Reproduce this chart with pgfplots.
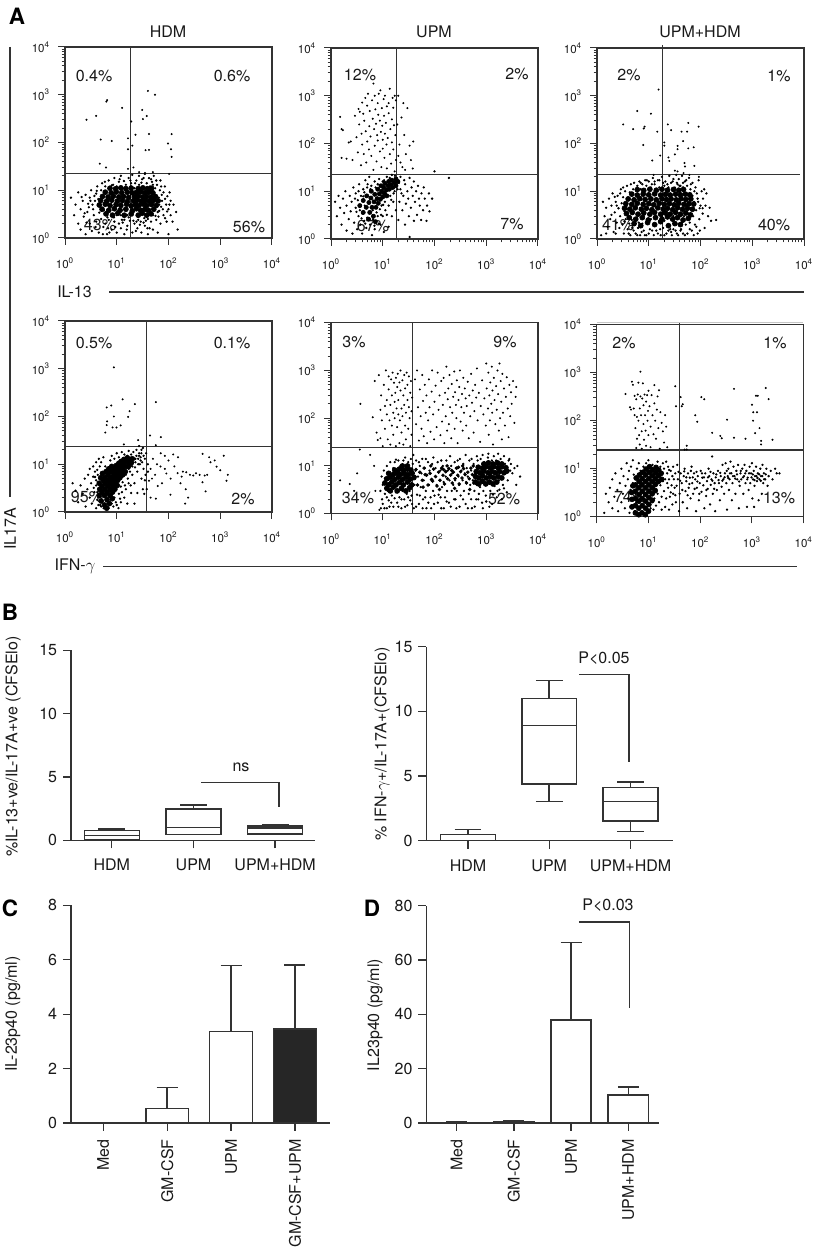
\documentclass[border=0pt]{standalone}
\usepackage{fontspec}
\setmainfont{TeX Gyre Heros}
\usepackage{pgfplots}
\usepgfplotslibrary{statistics}
\pgfplotsset{compat=1.18}
\definecolor{dk}{HTML}{333333}
\newcommand\Tk[1]{10\textsuperscript{#1}}
\newcommand\lab[3]{\node[font=\fontsize{9.6}{11}\selectfont,text=black!90,inner sep=0pt] at ({#1*0.6pt},{(1250-#2)*0.6pt}) {#3};}
\newcommand\rlab[3]{\node[font=\fontsize{9.6}{11}\selectfont,text=black!90,inner sep=0pt,rotate=90] at ({#1*0.6pt},{(1250-#2)*0.6pt}) {#3};}
\newcommand\letter[3]{\node[font=\fontsize{13.5}{15}\selectfont\bfseries,inner sep=0pt] at ({#1*0.6pt},{(1250-#2)*0.6pt}) {#3};}
\pgfplotsset{
  axpos/.style 2 args={at={({#1*0.6pt},{(1250-#2)*0.6pt})},anchor=south west},
  dotbig/.style={only marks,mark=*,mark size=1.5pt,black,mark options={draw=none,fill=black}},
  dotmid/.style={only marks,mark=*,mark size=0.48pt,black,mark options={draw=none,fill=black}},
  dotsmall/.style={only marks,mark=*,mark size=0.38pt,black,mark options={draw=none,fill=black}},
  gateline/.style={dk,line width=0.8pt,no marks},
  flowpanel/.style={scale only axis,width=124.2pt,height=114.6pt,xmin=1,xmax=10000,ymin=1,ymax=10000,clip=false,
    xtickten={0,1,2,3,4},ytickten={0,1,2,3,4},
    xticklabel={\Tk{\pgfmathparse{int(round(\tick/2.302585))}\pgfmathresult}},
    yticklabel={\Tk{\pgfmathparse{int(round(\tick/2.302585))}\pgfmathresult}},
    tick align=outside,tick pos=left,axis line style={dk,line width=0.8pt},
    major tick length=4pt,minor tick length=2pt,tick style={dk,line width=0.6pt},
    tick label style={font=\fontsize{6.9}{8}\selectfont,text=black!90},
    xticklabel style={yshift=-4.5pt},yticklabel style={xshift=-1.5pt}},
  statax/.style={scale only axis,axis lines=left,axis line style={-,dk,line width=0.9pt},
    tick align=outside,tick style={dk,line width=0.8pt},major tick length=4.8pt,
    ymin=0,clip=false,
    tick label style={font=\fontsize{9.6}{11}\selectfont,text=black!90},
    /pgf/number format/assume math mode=true,ytick style={dk},xtick style={dk}},
}
\begin{document}
\begin{tikzpicture}
\useasboundingbox (0,0) rectangle (489pt,750pt);
% panel letters
\letter{17}{16}{A}\letter{10}{612}{B}\letter{10}{908}{C}\letter{372}{908}{D}
% titles
\lab{168}{32}{HDM}\lab{434}{32}{UPM}\lab{700}{32}{UPM+HDM}
% percents
\lab{94}{76}{0.4\%}\lab{232}{76}{0.6\%}\lab{249}{227}{56\%}\lab{100}{225}{43\%}
\lab{360}{75}{12\%}\lab{517}{74}{2\%}\lab{512}{224}{7\%}\lab{373}{226}{67\%}
\lab{629}{75}{2\%}\lab{779}{76}{1\%}\lab{774}{225}{40\%}\lab{618}{225}{41\%}
\lab{94}{343}{0.5\%}\lab{232}{343}{0.1\%}\lab{243}{499}{2\%}\lab{87}{497}{95\%}
\lab{354}{342}{3\%}\lab{505}{342}{9\%}\lab{358}{498}{34\%}\lab{504}{499}{52\%}
\lab{624}{343}{2\%}\lab{775}{343}{1\%}\lab{779}{498}{13\%}\lab{630}{497}{74\%}
% side lines and labels
\lab{74.5}{292}{IL-13}\draw[dk,line width=0.8pt] ({109*0.6pt},{(1250-292)*0.6pt}) -- ({804*0.6pt},{(1250-292)*0.6pt});
\lab{75}{566}{IFN-$\gamma$}\draw[dk,line width=0.8pt] ({103*0.6pt},{(1250-566.7)*0.6pt}) -- ({797*0.6pt},{(1250-566.7)*0.6pt});
\draw[dk,line width=0.9pt] ({10*0.6pt},{(1250-47)*0.6pt}) -- ({10*0.6pt},{(1250-497)*0.6pt});
\rlab{10}{529}{IL17A}

% A1
\begin{loglogaxis}[flowpanel,axpos={65}{238},xminorticks=false]
\addplot[dotbig] table[row sep=\\,header=false] {6.2 3.2\\8.3 3\\10.5 3.3\\14 3\\19 3.2\\26 3\\31 3.3\\38 3\\46 3.2\\5.2 4\\7 3.8\\9 4.1\\11.6 3.8\\15 4\\20 3.7\\24 4.1\\29 3.8\\35 4\\41 3.8\\52 4\\4.6 4.9\\6 5.1\\7.4 4.8\\9.7 5\\12 4.8\\15.5 5.1\\19 4.7\\23 5\\27 4.8\\33 5.1\\38 4.8\\47 5\\58 4.8\\4.9 6.1\\6.4 5.9\\8 6.2\\10.3 5.9\\12.8 6.1\\16 5.8\\21 6\\25 6.2\\30 5.9\\36 6.1\\43 5.9\\52 6.2\\63 6\\5.3 7.4\\6.8 7.2\\8.6 7.5\\11 7.2\\13.5 7.4\\17 7.1\\22 7.3\\26 7.5\\32 7.2\\38 7.4\\46 7.1\\56 7.4\\6 9.1\\7.8 8.8\\9.8 9.2\\12.5 8.9\\16 9.1\\20 8.8\\24 9\\29 9.2\\35 8.9\\42 9.1\\50 8.8\\7.4 11\\9.5 10.7\\12 11.2\\15 10.8\\19 11.1\\26 10.8\\32 11.2\\39 10.8\\47 11\\};
\addplot[dotmid] table[row sep=\\,header=false] {1.3 7\\1.5 3\\1.6 5\\1.8 2\\1.8 9\\2 1.5\\2 4\\2.2 6\\2.3 2.8\\2.5 1.2\\2.5 8\\2.7 3.5\\2.8 5.2\\3 2\\3 7\\3.2 10\\3.3 1.4\\3.5 4\\3.6 3\\3.8 6\\4 2.2\\4 8.5\\4.2 12\\4.5 1.3\\4.6 3.4\\4.8 5\\5 2.5\\5 10\\5.2 14\\5.5 1.7\\5.6 3.8\\6 2\\6 12\\6.5 3\\6.5 1.2\\7 16\\7 2.4\\7.5 11\\8 1.5\\8 3.2\\8.5 13\\9 2.2\\9 18\\10 1.3\\10 3\\10 12\\11 15\\11 2\\12 1.6\\12 3\\12 20\\13 11\\14 2.4\\14 1.2\\15 13\\16 3\\16 1.8\\17 18\\18 2.3\\19 14\\20 1.3\\20 3\\20 21\\22 11\\22 2\\24 16\\25 1.6\\25 3\\27 13\\27 20\\29 2.2\\30 1.3\\31 17\\32 11\\34 2.6\\35 1.8\\35 22\\38 14\\40 1.2\\40 2.5\\42 18\\44 12\\46 2.2\\48 15\\50 1.5\\50 3\\52 20\\55 11\\58 2.4\\58 5\\60 13\\62 1.3\\62 3.5\\65 7\\68 10\\70 2\\70 16\\72 4.5\\75 6\\80 3\\80 9\\85 12\\90 5\\92 2.2\\95 7.5\\100 1.2\\100 4\\105 9\\110 3\\110 6\\120 2.2\\125 5\\140 3.5\\150 1.5\\2.6 2.1\\3.4 5\\4.4 6.5\\3.9 1.7\\2.9 4.4\\5.4 1.2\\6.8 1.6\\8.8 2.7\\11 3.6\\13 2.1\\17 2.7\\21 2.3\\24 2.2\\28 1.9\\33 2.1\\37 2.9\\43 1.6\\47 3.2\\54 4.2\\56 2.9\\66 3.7\\74 8\\3.1 6\\2.4 3.3\\4.1 9.7\\3.7 7.6\\2.1 7.2\\5.9 15\\6.6 2.7\\8 12.6\\7.2 1.3\\9.4 1.7\\12.6 2.4\\11.4 17\\15.6 1.5\\13.8 15.6\\18.4 16\\22.6 14\\23.4 1.4\\26 2.4\\30 14.4\\33 18\\36.6 2.3\\39 1.6\\46 17\\50 13\\58 16\\64 2.8\\66 5\\72 12\\78 4\\86 6.6\\86 2.6\\94 3.6\\104 5\\};
\addplot[dotsmall] table[row sep=\\,header=false] {40 1200\\55 1000\\6.5 770\\6.3 720\\12.7 530\\31 480\\4 360\\2.6 300\\38 360\\32 310\\19 275\\23 145\\42 150\\115 150\\4.9 115\\8 107\\16.5 122\\20 86\\98 95\\16.5 72\\36 69\\42 70\\112 72\\115 50\\4.7 36\\6.2 30\\16.5 28\\21 30\\27 24\\35 23\\50 24\\103 22\\};
\addplot[gateline] coordinates {(18.4,1)(18.4,10000)};
\addplot[gateline] coordinates {(1,22.5)(10000,22.5)};
\end{loglogaxis}

% A2
\begin{loglogaxis}[flowpanel,axpos={331}{239}]
\addplot[dotbig,mark size=1.25pt] table[row sep=\\,header=false] {3.6 5\\4.2 3.6\\4.2 6.4\\4.8 4.6\\4.9 8\\5.3 2.6\\5.4 5.8\\5.6 3.6\\5.9 7.2\\6 10\\6.2 4.6\\6.6 3\\6.8 6\\7 8.6\\7.2 2.3\\7.4 4.6\\7.8 7\\8 11\\8.2 5.6\\8.6 8.8\\9 6.8\\9.2 13\\9.6 10\\10 7.6\\10.4 12\\10.8 9\\11 14.6\\11.8 10.6\\12 8\\12.6 13\\13 16\\13.4 11\\14.4 13.6\\15 17\\15.6 12\\16.6 15\\18 13\\18 18\\19.6 16\\};
\addplot[dotmid] table[row sep=\\,header=false] {1.2 6\\1.3 3\\1.4 8\\1.5 4.5\\1.6 2\\1.7 7\\1.8 3.5\\1.9 10\\2 1.5\\2 5\\2.2 2.6\\2.3 8\\2.4 3.8\\2.5 6\\2.6 1.3\\2.7 12\\2.8 2.2\\3 4.5\\3 9\\3.2 1.6\\3.3 6.5\\3.4 3\\3.5 14\\3.7 2\\3.8 8\\4 1.3\\4 3.4\\4.2 11\\4.4 2.4\\4.5 5\\4.6 17\\4.8 1.7\\5 2.8\\5 12\\5.4 6\\5.5 20\\5.7 2\\6 13\\6.2 1.2\\6.5 2.6\\7 16\\7 1.6\\7.5 2.4\\8 3\\8 14\\8.5 18\\9 2\\9.5 5\\10 3\\10 16\\10.5 1.4\\11 6\\12 3.2\\12 20\\13 5\\13 1.8\\14 8\\15 3\\15 22\\16 6\\17 10\\18 4\\18 18\\20 2.5\\21 6\\22 11\\22 20\\24 4\\25 8\\27 2\\27 14\\28 5.5\\30 10\\31 7\\32 3\\33 19\\35 4.5\\36 12\\38 8\\40 2.4\\40 16\\42 6\\44 10\\46 3.2\\48 13\\50 7\\52 5\\55 2.5\\56 9\\60 4\\62 12\\65 7\\70 2.4\\72 5\\78 9\\80 3.8\\90 7\\100 26\\190 19\\33 1.1\\3.1 3.7\\2.9 7\\3.6 4\\3.9 2.7\\3.4 10\\4.2 7.8\\4.6 2.1\\4.4 9.5\\5.1 14\\5.8 11\\6.4 4\\6.9 1.9\\7.6 3.6\\8.4 2.1\\8.8 4.2\\9.3 3.2\\7.3 12\\10.2 5.2\\11.2 4\\10.6 17\\13.6 19\\14.6 6.6\\16.2 9\\17.2 21\\19.4 11\\20.6 15\\23 9\\26 17\\};
\addplot[dotsmall] table[row sep=\\,header=false] {1.5 360\\1.6 200\\1.7 190\\1.6 50\\2 48\\2.2 105\\2.4 110\\2.6 45\\2.9 380\\3.1 135\\3.3 65\\3.4 530\\3.5 250\\3.6 460\\3.8 35\\3.9 160\\4 720\\4 95\\4.2 420\\4.3 60\\4.4 300\\4.6 900\\4.7 180\\4.8 40\\5 620\\5 110\\5.2 1100\\5.4 75\\5.5 230\\5.6 480\\5.8 140\\6 55\\6.2 800\\6.4 330\\6.6 1800\\6.6 28\\6.8 200\\7 90\\7 1000\\7.2 520\\7.4 260\\7.6 42\\7.8 150\\8 700\\8 115\\8.2 400\\8.4 1100\\8.8 68\\8.8 300\\9 1300\\9.2 175\\9.4 32\\9.6 550\\9.8 235\\10 120\\10 78\\10.4 850\\10.6 380\\10.8 50\\11 1000\\11 160\\11.5 270\\11.8 95\\12 600\\12 30\\12.5 130\\13 700\\13 430\\13.7 60\\13.7 1400\\14 200\\14.5 38\\15 320\\15 105\\15.5 900\\16 75\\16 560\\16.5 240\\17 26\\17 1000\\17.5 150\\18 45\\18 800\\19 250\\20 55\\20 1000\\21 95\\22 40\\23 350\\24 32\\25 700\\26 150\\27 28\\28 60\\30 550\\33 90\\35 45\\38 30\\39 110\\};
\addplot[gateline] coordinates {(18.4,1)(18.4,10000)};
\addplot[gateline] coordinates {(1,22.6)(10000,22.6)};
\end{loglogaxis}

% A3
\begin{loglogaxis}[flowpanel,axpos={597}{239}]
\addplot[dotbig] table[row sep=\\,header=false] {5.2 2.1\\7 1.9\\9.5 2.2\\13 2\\17 2.3\\24 1.9\\32 2.1\\41 2\\4.2 2.8\\5.6 2.6\\7.5 2.8\\9.8 2.5\\13.5 2.8\\18 2.6\\23 2.9\\29 2.6\\36 2.8\\46 2.5\\58 2.7\\3.7 3.4\\4.8 3.6\\6.2 3.3\\8 3.5\\10.5 3.3\\13 3.6\\17 3.3\\21 3.5\\26 3.3\\33 3.6\\41 3.3\\52 3.5\\64 3.2\\3.4 4.4\\4.3 4.2\\5.5 4.5\\7.2 4.2\\9 4.4\\11.5 4.1\\15 4.5\\19 4.2\\23 4.4\\29 4.1\\36 4.5\\45 4.2\\56 4.4\\70 4.2\\3.6 5.5\\4.7 5.3\\6 5.6\\7.8 5.3\\10 5.5\\12.5 5.2\\16 5.6\\20 5.3\\25 5.5\\31 5.2\\38 5.6\\48 5.3\\60 5.5\\74 5.4\\4 6.9\\5.2 6.6\\6.7 7\\8.5 6.7\\11 6.9\\14 6.6\\18 7\\22 6.7\\27 6.9\\34 6.6\\42 7\\52 6.7\\65 6.9\\4.7 8.7\\6 8.3\\7.8 8.7\\10 8.4\\13 8.8\\17 8.3\\21 8.6\\26 8.3\\33 8.7\\41 8.4\\51 8.7\\62 8.4\\6 10.8\\8 10.4\\10.5 11\\14 10.5\\18 11\\23 10.5\\30 10.9\\38 10.5\\47 10.9\\};
\addplot[dotmid] table[row sep=\\,header=false] {1.2 1.2\\1.3 6\\1.4 3\\1.5 4.5\\1.6 1.8\\1.7 7\\1.8 2.6\\1.9 5\\2 9\\2.1 1.4\\2.2 3.6\\2.3 6\\2.4 2.2\\2.5 8\\2.6 4.4\\2.7 1.7\\2.8 3\\2.9 11\\3 5.6\\3.1 2\\3.2 7.5\\3.3 1.3\\3.4 3.8\\3.5 10\\3.6 2.6\\3.7 4.8\\3.8 13\\3.9 1.6\\4 3\\4.1 7\\4.2 2.1\\4.3 9.5\\4.4 1.2\\4.5 14\\4.6 4.2\\4.7 2.5\\4.8 1.7\\5 11\\5.2 15\\5.4 2\\5.6 1.3\\5.8 2.8\\6 13\\6.2 1.7\\6.4 2.2\\6.6 16\\6.8 1.2\\7 11\\7.5 2.1\\7.5 14\\8 1.5\\8 3\\8.5 17\\9 1.2\\9 13\\9.5 2.2\\10 16\\10.5 1.6\\11 2.6\\11 12\\12 19\\12.5 1.2\\13 2\\13 14\\14 2.8\\14 1.5\\15 17\\16 2.4\\16 12\\17 1.2\\18 3\\18 20\\19 1.7\\20 2.4\\20 13\\21 16\\22 1.3\\22 3\\23 4.5\\24 2\\24 12\\25 21\\26 1.6\\27 2.6\\27 15\\28 1.2\\30 3\\30 18\\31 2\\32 12\\33 1.5\\34 22\\35 2.6\\36 14\\37 1.2\\38 2\\38 18\\40 3\\41 13\\42 1.6\\44 2.2\\44 21\\46 1.3\\46 12\\48 3\\50 16\\52 2\\52 9\\54 5\\55 13\\56 1.3\\58 3.4\\60 7\\60 19\\62 2.2\\64 11\\66 4.5\\68 1.5\\70 8\\70 15\\72 3\\75 6\\78 2\\80 12\\82 4\\85 9\\88 1.3\\90 6\\92 17\\95 2.6\\100 5\\105 10\\110 3.4\\112 7\\120 1.7\\125 5\\130 9\\140 3\\150 4.5\\160 2.4\\200 2.5\\1.5 1.3\\2.3 1.3\\1.9 3.2\\2.4 5\\2.2 7.6\\2.8 9\\3.2 12\\3.4 2.3\\4.1 1.3\\5.1 1.5\\6 1.2\\7.3 1.4\\8.4 1.2\\10 1.3\\11.6 1.5\\15 1.3\\16.6 1.6\\20 1.2\\24 1.5\\27 1.4\\30 1.6\\35 1.3\\41 1.5\\50 1.2\\62 1.6\\74 1.2\\83 1.8\\97 1.5\\7 15\\9.2 17\\11.5 14\\13 16\\16 17\\19 15\\23 14\\29 16\\35 15\\39 13\\46 15\\53 17\\65 14\\76 10\\88 7\\96 4.4\\110 4.4\\118 11\\};
\addplot[dotsmall] table[row sep=\\,header=false] {15.5 1350\\6 480\\11 420\\3.2 250\\5 200\\8.3 225\\8 205\\14.6 177\\23.4 250\\27 190\\43 177\\55 177\\58 270\\92 225\\7.8 93\\20 105\\20 90\\46 112\\36 89\\58 79\\74 83\\36 76\\32 59\\16.6 56\\11.7 44\\24 51\\25 43\\49 39\\50 33\\76 34\\36 26\\32 27\\47 24\\12.4 22\\61 22\\93 20\\};
\addplot[gateline] coordinates {(18.6,1)(18.6,11800)};
\addplot[gateline] coordinates {(1,22.6)(8500,22.6)};
\end{loglogaxis}

% A4
\begin{loglogaxis}[flowpanel,axpos={65}{512},xminorticks=false]
\addplot[dotbig] table[row sep=\\,header=false] {4.6 2.2\\4.7 3\\4.6 4\\4.9 5.2\\5 1.7\\5.2 2.6\\5.2 3.5\\5.3 6.4\\5.5 4.6\\5.8 1.4\\5.8 2.2\\5.9 3\\6 4\\6 5.3\\6.2 7\\6.4 1.2\\6.5 1.8\\6.6 2.6\\6.7 3.5\\6.8 4.6\\6.8 6\\7 8\\7.2 1.5\\7.4 2.2\\7.5 3\\7.5 4\\7.7 5.2\\7.8 7\\8 9\\8.2 1.9\\8.3 2.6\\8.4 3.5\\8.6 4.6\\8.7 6\\8.8 8\\9.2 3\\9.3 4\\9.5 5.2\\9.6 7\\9.8 9.4\\10.2 3.6\\10.4 4.6\\10.6 6\\10.8 8\\11 10.5\\11.5 5.2\\11.8 7\\12 9\\12.2 11.5\\13 6\\13 8\\13.4 10\\13.8 12.6\\14.6 7\\15 9\\15.2 11.5\\16 13.6\\16.8 9\\17 11\\18 12.6\\19 10.6\\20 13\\};
\addplot[dotmid] table[row sep=\\,header=false] {1.4 4\\1.6 2.8\\1.8 1.6\\2 3.6\\2.2 2.4\\2.4 5\\2.5 1.3\\2.7 3\\2.8 6\\3 2\\3 8\\3.2 4\\3.3 1.5\\3.5 5.5\\3.5 9\\3.7 2.6\\3.8 7\\4 1.2\\4 3.6\\4 11\\4.2 1.8\\4.3 6\\4.5 2.4\\4.5 13\\4.7 9\\4.8 1.4\\5 11\\5.5 14\\6 9\\7.5 12\\8 15\\8 1.5\\9 2\\9 13\\9.5 3\\10 1.4\\10 4\\10 17\\11 2.4\\11 5\\11 14\\12 1.6\\12 3.4\\12.5 18\\13 5.5\\14 2\\14 16\\15 6\\15 3\\16 1.5\\16 15\\17 4\\17 8\\17 19\\18 12\\19 2.5\\19 16\\20 6\\20 9\\21 13\\21 18\\22 1.5\\22 4\\23 11\\24 15\\24 20\\25 7\\25 2.5\\26 13\\27 17\\27 24\\28 10\\29 14\\30 5\\30 20\\31 11\\32 3\\33 15\\33 8\\34 2.4\\35 13\\35 4.6\\36 6\\37 17\\38 3\\40 7\\40 10\\3.6 3.2\\4 4.6\\4.2 7.6\\3.8 5.4\\4.2 2.6\\4.4 1.4\\5 1.3\\5.6 1.2\\7 1.2\\8.6 1.3\\9.6 1.6\\10.8 1.2\\11.6 1.9\\12.6 2.6\\13 4.2\\14.4 3.6\\16.4 5\\18 7\\18.6 3.6\\20.6 11\\22.6 8.6\\23 13\\26 10\\27 15\\29 12\\30 17\\32 22\\};
\addplot[dotsmall] table[row sep=\\,header=false] {8.8 1070\\13 229\\57 200\\6.4 155\\7.8 170\\22.4 182\\17.7 129\\16.6 98\\8.8 100\\6.5 79\\6.4 66\\8.3 59\\9.9 59\\11.9 65\\6 46\\44 40\\71 37\\57 25\\13.7 26\\26 32\\71 17\\85 15\\123 16\\153 14\\455 16.5\\610 14\\780 12\\1170 15\\650 11\\850 8.9\\1000 7.5\\1400 6\\1320 4.5\\455 4.2\\520 2.7\\240 2\\210 1.5\\215 3\\109 2.3\\57 1.9\\91 6.4\\50 13\\60 10\\45 8\\55 6\\48 5\\42 4.5\\70 9\\75 4\\85 8\\62 3.5\\100 12\\110 5\\130 9\\150 6.5\\170 4\\190 7\\220 6.8\\260 6\\300 5.8\\340 6.5\\400 6\\500 5.8\\560 6\\180 5.5\\45 2\\};
\addplot[gateline] coordinates {(38,1)(38,10000)};
\addplot[gateline] coordinates {(1,23.6)(10000,23.6)};
\end{loglogaxis}

% A5
\begin{loglogaxis}[flowpanel,axpos={331}{513.7},xminorticks=false]
\addplot[dotbig] table[row sep=\\,header=false] {12 3.4\\14 3\\16 3.6\\19 3\\23 3.4\\28 3\\33 3.5\\11 4.4\\13 4\\15 4.6\\18 4\\21 4.5\\25 4\\30 4.6\\36 4\\12 5.4\\14 5.8\\17 5.2\\20 5.8\\24 5.2\\28 5.8\\34 5.3\\40 5.7\\13 7\\16 6.6\\19 7.2\\22 6.6\\26 7\\31 6.6\\37 7\\17 8.2\\21 8.6\\25 8.2\\30 8.6\\35 8.2\\24 10\\30 10\\620 4.6\\720 4.2\\840 4.8\\980 4.2\\1150 4.6\\1350 4.2\\1600 4.6\\620 6\\720 5.6\\850 6.2\\1000 5.6\\1200 6\\1400 5.6\\1700 6\\2000 5.6\\640 7.6\\760 7.2\\900 7.8\\1080 7.2\\1280 7.6\\1500 7.2\\1800 7.6\\2200 7.2\\2500 7.8\\700 9.4\\850 9\\1000 9.6\\1200 9.2\\1400 9.6\\1700 9.2\\2000 9.6\\2400 9.2\\900 11\\1100 11.6\\1350 11\\1650 11.6\\2000 11\\};
\addplot[dotbig,mark size=0.85pt] table[row sep=\\,header=false] {42 6\\47 4\\52 7.4\\58 5\\63 9\\70 6.4\\75 4\\82 7\\88 5.2\\96 8.6\\105 6\\112 3.8\\120 7.4\\128 5\\138 9\\146 6.4\\156 4.2\\165 7.6\\178 5.4\\190 8.8\\205 6.4\\220 4.4\\232 7.4\\250 5.4\\265 9\\282 6.4\\300 4.2\\320 7.6\\340 5.6\\365 8.8\\390 6.6\\415 4.4\\440 7.4\\470 5.4\\505 9\\540 6.6\\575 4.4\\60 3.6\\85 10\\125 3.2\\175 10\\245 3.4\\350 10\\480 3.2\\560 10\\44 8.4\\66 6.6\\92 4.8\\150 8.4\\215 8\\290 9.4\\};
\addplot[dotmid] table[row sep=\\,header=false] {9 3\\9.5 6\\10 1.6\\10 4\\10.5 8\\11 2.6\\11 5.5\\12 1.3\\12 10\\12.5 3\\13 7\\13 1.9\\14 12\\15 2.4\\16 9\\16 1.4\\17 12\\18 2.8\\19 1.7\\20 13\\21 2.2\\22 10\\23 1.3\\24 3\\25 13\\26 2\\28 10\\29 2.6\\30 1.5\\31 12\\33 3\\34 1.9\\35 14\\36 2.4\\38 11\\40 1.3\\41 4\\43 8\\44 13\\46 2.5\\48 6\\50 1.6\\52 10\\54 3.6\\56 7\\58 14\\60 2\\62 5\\65 9\\68 3\\70 1.3\\72 6.5\\75 12\\78 4\\80 8\\84 2.2\\88 5\\90 11\\94 3\\98 1.6\\105 9\\110 4\\115 12\\120 2.5\\125 5\\130 8\\135 1.3\\140 3.6\\145 10\\150 4.6\\160 2.2\\165 6\\170 13\\175 3\\180 8\\190 1.7\\195 5\\210 10\\215 3\\220 7\\230 4\\240 2\\245 12\\250 5\\265 1.3\\270 3\\280 9\\290 6\\300 4\\310 14\\320 2.4\\330 8\\350 5\\360 11\\370 3\\385 7\\400 1.6\\410 4.6\\420 9\\440 6\\460 2.6\\470 13\\490 4\\510 8\\530 1.3\\550 5\\570 11\\590 3\\610 7\\640 2\\660 4\\680 13\\720 2.6\\760 3.6\\780 14\\830 1.7\\880 3\\920 12\\980 2.4\\1020 4\\1080 15\\1150 1.4\\1200 3\\1280 13\\1350 2.5\\1450 3.8\\1550 13\\1650 3\\1750 5\\1900 14\\2000 2\\2100 4\\2300 11\\2400 9\\2600 5\\2700 13\\2900 8\\3000 11\\3200 7\\3500 9\\4000 10\\4500 6\\3800 4\\9.2 1.3\\9.7 2\\10.8 1.3\\12 2.2\\13.5 1.4\\14.6 1.7\\17 2.1\\20 1.4\\23 2\\27 1.4\\31 2.2\\37 1.6\\44 1.4\\52 2.4\\59 1.3\\66 2.2\\76 1.7\\86 1.3\\100 2.4\\116 1.7\\131 2.2\\152 1.3\\172 1.8\\206 1.4\\255 2\\305 1.4\\356 2\\440 1.3\\510 2\\600 1.4\\700 2\\860 1.3\\1000 1.8\\1300 1.6\\1600 2.2\\1800 3.2\\2200 3.4\\2500 2.8\\18 13.6\\27 15\\39 17\\50 12\\68 14\\95 15\\135 13\\200 16\\280 13\\400 17\\520 14\\660 16\\850 17\\1100 18\\1400 16\\1700 18\\2200 16\\2800 14\\};
\addplot[dotsmall] table[row sep=\\,header=false] {1.5 5\\2.3 4.2\\2.8 3\\3.2 7\\3.6 22\\3.7 200\\5.7 17\\6.4 105\\6.8 10\\7 600\\7.2 3\\7.6 50\\8 35\\8.4 800\\8.6 1.2\\9 150\\9 38\\9.3 300\\9.6 90\\10 26\\10.5 500\\11 180\\11 60\\11.5 1000\\12 240\\12 120\\12.5 36\\13 750\\13 400\\13.5 90\\14 28\\14 190\\14.5 650\\15 70\\15 300\\15.5 900\\16 130\\16 45\\16.5 550\\17 220\\17 100\\17.5 340\\18 26\\18 700\\18.5 160\\19 450\\19 65\\19.5 850\\20 120\\20 240\\21 30\\21 560\\21.5 90\\22 1000\\22 380\\23 160\\23 50\\24 620\\24 110\\25 300\\25 28\\26 800\\26 190\\27 70\\27 420\\28 130\\28 36\\29 900\\30 240\\30 500\\31 60\\32 170\\32 750\\33 100\\34 340\\34 26\\35 600\\36 140\\36 45\\37 270\\42 650\\44 75\\46 1000\\48 170\\50 34\\52 400\\54 110\\56 60\\58 800\\60 230\\62 42\\65 500\\68 130\\70 300\\72 30\\75 90\\78 650\\80 170\\84 52\\88 360\\90 1000\\94 120\\98 36\\100 220\\105 480\\110 65\\115 900\\120 150\\125 300\\130 44\\135 600\\140 85\\145 190\\150 700\\155 30\\160 340\\165 110\\170 1200\\175 55\\180 250\\185 420\\190 75\\195 800\\200 170\\210 38\\215 520\\220 130\\230 280\\240 950\\245 60\\250 350\\260 190\\265 100\\270 620\\280 30\\290 240\\300 450\\310 1000\\320 85\\330 170\\340 320\\350 55\\360 700\\370 130\\385 420\\400 260\\410 70\\420 180\\440 580\\460 38\\470 300\\490 110\\510 850\\530 210\\550 380\\570 50\\590 140\\610 500\\640 270\\660 1100\\680 90\\720 340\\760 32\\780 180\\830 620\\880 120\\920 260\\980 70\\1000 1400\\1020 420\\1080 160\\1100 900\\1120 45\\1150 300\\1180 90\\1200 560\\1250 200\\1280 1200\\1300 130\\1320 380\\1350 28\\1400 700\\1450 240\\1500 75\\1550 470\\1600 150\\1650 1000\\1700 320\\1750 55\\1800 1400\\1850 100\\1900 600\\1950 220\\2000 36\\2050 850\\2100 130\\2200 420\\2300 70\\2400 280\\2500 720\\2600 160\\2700 40\\2800 500\\2900 110\\3000 350\\3100 200\\3300 600\\3500 80\\3700 280\\3800 450\\};
\addplot[gateline] coordinates {(38,1)(38,10000)};
\addplot[gateline] coordinates {(1,24.4)(10000,24.4)};
\end{loglogaxis}

% A6
\begin{loglogaxis}[flowpanel,axpos={596.7}{516.7},height=115.2pt,xminorticks=false]
\addplot[dotbig] table[row sep=\\,header=false] {4.8 1.6\\4.8 2.3\\4.7 3.2\\5 4.4\\5.6 1.2\\5.6 1.7\\5.6 2.4\\5.6 3.4\\5.6 4.6\\5.8 6.4\\6.5 1.1\\6.5 1.5\\6.5 2.1\\6.6 2.9\\6.5 4\\6.6 5.4\\6.7 7.4\\7.5 1.2\\7.6 1.7\\7.5 2.4\\7.6 3.4\\7.5 4.6\\7.6 6.2\\7.8 8.4\\8.7 1.1\\8.8 1.5\\8.8 2.1\\8.8 2.9\\8.8 4\\8.8 5.4\\8.8 7.4\\9 9.8\\10 1.3\\10.2 1.8\\10.2 2.5\\10.2 3.4\\10.2 4.6\\10.2 6.2\\10.3 8.4\\10.5 11\\11.8 2.2\\11.8 3\\11.8 4\\11.8 5.4\\11.8 7.2\\12 9.4\\13.5 3.5\\13.6 4.7\\13.6 6.2\\13.7 8.2\\14 10.6\\15.5 5.4\\15.6 7.2\\15.8 9.4\\17.6 8\\18 6\\};
\addplot[dotmid] table[row sep=\\,header=false] {1.4 1.2\\1.5 3\\1.7 2\\1.8 4\\2 1.5\\2 6\\2.2 2.6\\2.3 8\\2.5 3.6\\2.6 1.3\\2.8 5\\3 2\\3 10\\3.2 3\\3.3 7\\3.5 1.5\\3.6 4.4\\3.8 13\\4 2.4\\4 6\\4.2 9\\4.3 1.2\\4.5 3.6\\4.6 11\\4.8 1.7\\5 5\\5 15\\5.2 7.5\\5.4 1.3\\5.6 3\\5.8 2\\6 10\\6.5 13\\7 9\\8 11\\9 13\\10 1.3\\10 15\\11 1.5\\12 2\\12 12\\12.5 1.4\\13 2.4\\14 1.7\\14 11\\15 3\\15 14\\16 2\\16 7\\17 4.5\\17 11\\18 1.4\\18 2.6\\18 8\\19 5.5\\19 13\\20 3.4\\20 10\\21 1.6\\21 6\\22 2.4\\22 14\\23 8\\24 4\\24 11\\25 1.4\\25 6\\26 2.6\\27 9\\28 4.5\\29 1.8\\30 3\\30 11\\31 6\\33 8\\34 2\\35 4.4\\36 12\\37 6\\39 1.3\\40 3\\42 8\\44 5\\46 2\\48 7\\50 10\\52 3.4\\54 5.5\\56 1.5\\58 8\\60 4\\63 6.5\\65 2.4\\68 11\\70 5\\73 3\\76 8\\80 6\\83 1.3\\86 4\\90 7\\94 2.2\\98 5\\102 9\\106 3.3\\110 6.5\\115 4.5\\120 1.5\\125 8\\130 2.7\\135 5.5\\140 3.8\\145 10\\150 7\\155 1.8\\160 4.6\\165 6\\170 18\\175 3\\180 8\\190 5\\195 1.3\\200 6.6\\210 3.6\\220 9\\230 5\\240 2.2\\250 7\\260 4.2\\270 12\\280 6\\290 3\\300 8\\310 13\\320 5\\330 1.4\\340 7\\350 10\\360 3.6\\370 6\\385 14\\400 8\\410 2.2\\420 5\\440 11\\460 7\\480 3\\500 9\\520 6\\540 12\\560 1.5\\580 4.4\\600 8\\620 6\\650 10\\680 3\\700 7\\720 12\\750 5\\780 9\\800 1.6\\830 6.5\\860 3.6\\900 11\\930 5\\960 8\\1000 13\\1020 2.4\\1050 6\\1080 9\\1100 1.6\\1120 4.4\\1150 7\\1200 11\\1250 5.5\\1300 8\\1350 2.2\\1400 6\\1450 10\\1500 7\\1550 3\\1600 12\\1650 5\\1700 8\\1800 6\\1900 10\\2000 4.4\\2100 7\\2300 9\\2500 6\\2800 10\\3000 8\\3400 8\\23 5\\25 9.4\\27 3.2\\29 7\\32 4\\33 2.8\\38 8.6\\41 5.6\\45 3.6\\49 8.8\\54 6.6\\57 2.8\\62 4.8\\66 9\\72 6.6\\78 3.8\\85 8.6\\88 5.4\\96 3\\108 8\\118 6.6\\132 3.6\\142 6.6\\158 8.6\\172 5.6\\186 3.8\\205 7.6\\226 5.8\\244 8.2\\268 5.6\\296 6.6\\326 9\\348 6.4\\376 8\\430 7\\474 6.2\\515 7.6\\565 5.4\\610 9\\670 6.6\\740 8\\810 6\\880 8\\980 6.6\\1040 7.6\\1120 5.8\\1220 7\\1280 6.4\\1380 7.6\\1480 5.6\\1580 7\\1720 6\\1850 7.6\\};
\addplot[dotsmall] table[row sep=\\,header=false] {3.6 360\\4.4 190\\4.6 170\\4.8 650\\5 560\\5.2 180\\5.4 130\\5.4 330\\5.6 70\\5.8 280\\5.8 27\\6 120\\6 42\\6.2 350\\6.4 620\\6.4 100\\6.6 50\\6.8 180\\6.8 32\\7 1050\\7 320\\7.2 130\\7.4 26\\7.4 60\\7.6 290\\7.8 600\\8 85\\8 210\\8.2 40\\8.4 350\\8.6 130\\8.8 62\\9 250\\9 30\\9.4 340\\9.6 100\\9.8 160\\10 50\\10 420\\10.5 200\\11 75\\11 28\\11.5 340\\12 130\\12.5 52\\13 550\\13 230\\13.5 100\\14 42\\14.5 170\\15 320\\15.5 70\\16 430\\16.5 26\\17 150\\18 90\\19 60\\20 35\\21 130\\22 75\\23 28\\33 520\\34 200\\42 310\\44 200\\46 220\\50 25\\55 30\\55 25\\80 130\\88 95\\105 310\\120 280\\170 56\\245 48\\260 43\\330 105\\450 460\\450 44\\750 42\\1000 215\\1060 150\\1050 100\\1200 330\\1300 330\\1250 150\\1150 55\\1400 70\\1500 38\\1500 32\\1850 480\\2100 280\\2500 40\\};
\addplot[gateline] coordinates {(39.5,1)(39.5,11200)};
\addplot[gateline] coordinates {(1,24.5)(10000,24.5)};
\addplot[gray!45,line width=0.8pt,no marks] coordinates {(1.02,11100)(9500,11100)};
\end{loglogaxis}

% B left
\begin{axis}[statax,axpos={71}{840.3},width=146.4pt,height=114pt,xmin=-0.5,xmax=2.488,ymax=15,
  xtick={0,1,2},xticklabels={HDM,UPM,UPM+HDM},ytick={0,5,10,15},xticklabel style={yshift=-3pt},
  boxplot/draw direction=y,boxplot/box extend=0.673,boxplot/whisker extend=0.327]
\addplot[dk,line width=0.95pt,solid,boxplot prepared={draw position=0,lower whisker=0,lower quartile=0.02,median=0.37,upper quartile=0.78,upper whisker=0.87}] coordinates {};
\addplot[dk,line width=0.95pt,solid,boxplot prepared={draw position=1,lower whisker=0.47,lower quartile=0.47,median=1.0,upper quartile=2.45,upper whisker=2.8}] coordinates {};
\addplot[dk,line width=0.95pt,solid,boxplot prepared={draw position=2,lower whisker=0.45,lower quartile=0.5,median=0.98,upper quartile=1.15,upper whisker=1.25}] coordinates {};
\addplot[dk,line width=0.9pt,no marks] coordinates {(1.093,4.55)(2.05,4.55)(2.05,2.6)};
\end{axis}
\lab{241}{767}{ns}\rlab{13}{746.7}{\%IL-13+ve/IL-17A+ve (CFSElo)}

% B right
\begin{axis}[statax,axpos={426.3}{840.7},width=147.8pt,height=116.4pt,xmin=-0.513,xmax=2.518,ymax=15,
  xtick={0,1,2},xticklabels={HDM,UPM,UPM+HDM},ytick={0,5,10,15},xticklabel style={yshift=-3pt},
  boxplot/draw direction=y,boxplot/box extend=0.673,boxplot/whisker extend=0.327]
\addplot[dk,line width=0.95pt,solid,boxplot prepared={draw position=0,lower whisker=0,lower quartile=0,median=0.02,upper quartile=0.49,upper whisker=0.88}] coordinates {};
\addplot[dk,line width=0.95pt,solid,boxplot prepared={draw position=1,lower whisker=3.04,lower quartile=4.4,median=8.9,upper quartile=11.0,upper whisker=12.4}] coordinates {};
\addplot[dk,line width=0.95pt,solid,boxplot prepared={draw position=2,lower whisker=0.7,lower quartile=1.52,median=3.04,upper quartile=4.1,upper whisker=4.56}] coordinates {};
\addplot[dk,line width=0.9pt,no marks] coordinates {(1.369,12.84)(1.984,12.84)(1.984,6.1)};
\end{axis}
\lab{604}{658}{P<0.05}\rlab{382}{744}{\% IFN-$\gamma$+/IL-17A+(CFSElo)}

% C
\begin{axis}[statax,axpos={71}{1123},width=155.4pt,height=130.6pt,xmin=-0.505,xmax=3.548,ymax=8,
  xtick={0,1,2,3},xticklabels={Med,GM-CSF,UPM,GM-CSF+UPM},ytick={0,2,4,6,8},
  xticklabel style={rotate=90,anchor=east,xshift=-1.5pt,yshift=0pt},
  ybar,bar width=25.6pt,bar shift=0pt,error bars/error mark options={rotate=90,mark size=6.3pt,line width=0.9pt,dk}]
\addplot[fill=white,draw=dk,line width=0.9pt,error bars/.cd,y dir=plus,y explicit,error bar style={dk,line width=0.9pt}] coordinates {(1,0.54) +- (0,0.76) (2,3.37) +- (0,2.42)};
\addplot[fill=black!85,draw=dk,line width=0.9pt,error bars/.cd,y dir=plus,y explicit,error bar style={dk,line width=0.9pt}] coordinates {(3,3.46) +- (0,2.34)};
\end{axis}
\rlab{12.7}{1014}{IL-23p40 (pg/ml)}

% D
\begin{axis}[statax,axpos={426.3}{1123},width=139.6pt,height=130.4pt,xmin=-0.531,xmax=3.537,ymax=80,
  xtick={0,1,2,3},xticklabels={Med,GM-CSF,UPM,UPM+HDM},ytick={0,20,40,60,80},
  xticklabel style={rotate=90,anchor=east,xshift=-1.5pt},
  ybar,bar width=24.2pt,bar shift=0pt,error bars/error mark options={rotate=90,mark size=6.3pt,line width=0.9pt,dk}]
\addplot[fill=white,draw=dk,line width=0.9pt,error bars/.cd,y dir=plus,y explicit,error bar style={dk,line width=0.9pt}] coordinates {(0,0.2) +- (0,0.3) (1,0.4) +- (0,0.5) (2,38) +- (0,28.5) (3,10.3) +- (0,3)};
\addplot[sharp plot,dk,line width=0.9pt,no marks] coordinates {(2.138,74)(3.018,74)(3.018,42.2)};
\end{axis}
\lab{608}{905}{P<0.03}\rlab{375}{1015}{IL23p40 (pg/ml)}
\end{tikzpicture}
\end{document}
